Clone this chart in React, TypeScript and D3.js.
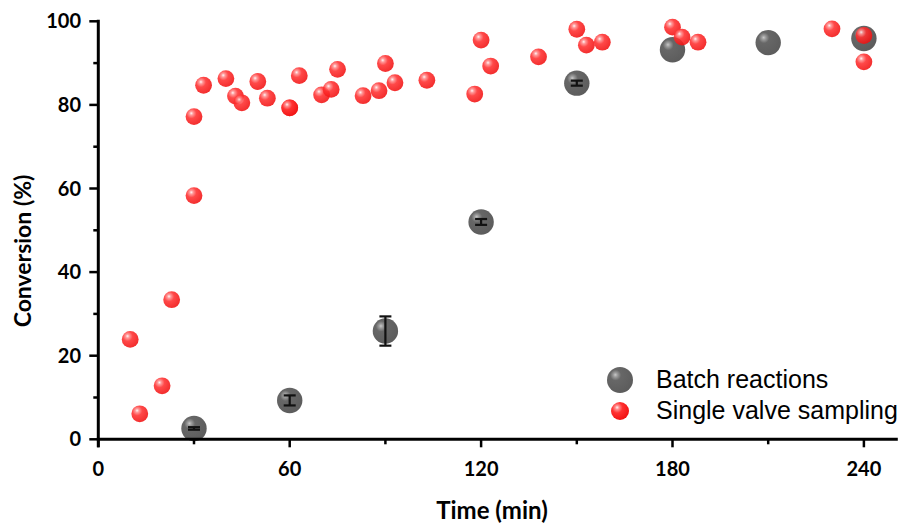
import React from "react";
import * as d3 from "d3";

const batchTime = [30, 60, 90, 120, 150, 180, 210, 240];
const batchConv = [2.6, 9.3, 25.9, 52.0, 85.2, 93.2, 94.9, 95.9];
const batchErr = [0.3, 1.2, 3.5, 0.7, 0.6, 0, 0, 0];

const valveTime = [10, 13, 20, 23, 30, 30, 33, 40, 43, 45, 50, 53, 60, 60, 63, 70, 73, 75, 83, 88, 90, 93, 103, 118, 120, 123, 138, 150, 153, 158, 180, 183, 188, 230, 240, 240];
const valveConv = [23.9, 6.1, 12.8, 33.4, 58.3, 77.2, 84.7, 86.3, 82.1, 80.5, 85.6, 81.6, 79.3, 79.3, 87.0, 82.4, 83.7, 88.5, 82.2, 83.4, 89.9, 85.3, 85.9, 82.6, 95.5, 89.3, 91.5, 98.1, 94.3, 95.0, 98.6, 96.2, 95.0, 98.2, 96.6, 90.3];

const xTicksMajor = [0, 60, 120, 180, 240];
const xTicksMinor = [30, 90, 150, 210];
const yTicksMajor = [0, 20, 40, 60, 80, 100];
const yTicksMinor = [10, 30, 50, 70, 90];

const legendLabels = ["Batch reactions", "Single valve sampling"];
const xTitle = "Time (min)";
const yTitle = "Conversion (%)";

export default function App() {
  const x = d3.scaleLinear().domain([0, 250]).range([98.3, 895.8]);
  const y = d3.scaleLinear().domain([0, 100]).range([439.3, 21.3]);
  const axisFont = "Lato, 'Open Sans', sans-serif";
  const x0 = x(0);
  const y0 = y(0);
  return (
    <svg width={902} height={524} style={{ position: "absolute", left: 0, top: 0, background: "#fff" }}>
      <defs>
        <radialGradient id="redBall" cx="0.36" cy="0.34" r="0.7" fx="0.34" fy="0.3">
          <stop offset="0" stopColor="#fff4f4" />
          <stop offset="0.16" stopColor="#ff8c8c" />
          <stop offset="0.42" stopColor="#ff3030" />
          <stop offset="1" stopColor="#f01010" />
        </radialGradient>
        <radialGradient id="greyBall" cx="0.36" cy="0.34" r="0.7" fx="0.32" fy="0.3">
          <stop offset="0" stopColor="#c8c8c8" />
          <stop offset="0.12" stopColor="#9a9a9a" />
          <stop offset="0.3" stopColor="#676767" />
          <stop offset="1" stopColor="#5c5c5c" />
        </radialGradient>
      </defs>

      {/* batch points */}
      {batchTime.map((t, i) => (
        <circle key={"b" + i} cx={x(t)} cy={y(batchConv[i])} r={12.7} fill="url(#greyBall)" />
      ))}
      {/* error bars */}
      {batchTime.map((t, i) =>
        batchErr[i] > 0 ? (
          <g key={"e" + i} stroke="#111" strokeWidth={2.2}>
            <line x1={x(t)} x2={x(t)} y1={y(batchConv[i] + batchErr[i])} y2={y(batchConv[i] - batchErr[i])} />
            <line x1={x(t) - 6} x2={x(t) + 6} y1={y(batchConv[i] + batchErr[i])} y2={y(batchConv[i] + batchErr[i])} />
            <line x1={x(t) - 6} x2={x(t) + 6} y1={y(batchConv[i] - batchErr[i])} y2={y(batchConv[i] - batchErr[i])} />
          </g>
        ) : null
      )}
      {/* valve points */}
      {valveTime.map((t, i) => (
        <circle key={"v" + i} cx={x(t)} cy={y(valveConv[i])} r={8.4} fill="url(#redBall)" opacity={0.88} />
      ))}

      {/* axes */}
      <g stroke="#000" strokeWidth={3} fill="none">
        <line x1={x0} x2={x0} y1={y(100) - 1.5} y2={y0 + 8} />
        <line x1={x0 - 1.5} x2={x(250) + 2} y1={y0} y2={y0} />
      </g>
      <g stroke="#000" strokeWidth={2.5}>
        {xTicksMajor.map((t) => (
          <line key={"xm" + t} x1={x(t)} x2={x(t)} y1={y0} y2={y0 + 8} />
        ))}
        {xTicksMinor.map((t) => (
          <line key={"xn" + t} x1={x(t)} x2={x(t)} y1={y0} y2={y0 + 5} />
        ))}
        {yTicksMajor.map((v) => (
          <line key={"ym" + v} x1={x0 - 9} x2={x0} y1={y(v)} y2={y(v)} />
        ))}
        {yTicksMinor.map((v) => (
          <line key={"yn" + v} x1={x0 - 5} x2={x0} y1={y(v)} y2={y(v)} />
        ))}
      </g>
      <g fontFamily={axisFont} fontWeight="bold" fontSize={20} fill="#000">
        {xTicksMajor.map((t) => (
          <text key={"xl" + t} x={x(t)} y={476} textAnchor="middle">
            {t}
          </text>
        ))}
        {yTicksMajor.map((v) => (
          <text key={"yl" + v} x={81} y={y(v) + 7} textAnchor="end">
            {v}
          </text>
        ))}
        <text x={492} y={519} textAnchor="middle" fontSize={24}>
          {xTitle}
        </text>
        <text transform={`translate(31,251) rotate(-90)`} textAnchor="middle" fontSize={23}>
          {yTitle}
        </text>
      </g>

      {/* legend */}
      <circle cx={620} cy={380} r={13} fill="url(#greyBall)" />
      <circle cx={620} cy={411} r={9} fill="url(#redBall)" />
      <g fontFamily="'Liberation Sans', Arial, sans-serif" fontSize={25} fill="#000">
        <text x={656} y={388}>{legendLabels[0]}</text>
        <text x={656} y={419}>{legendLabels[1]}</text>
      </g>
    </svg>
  );
}
